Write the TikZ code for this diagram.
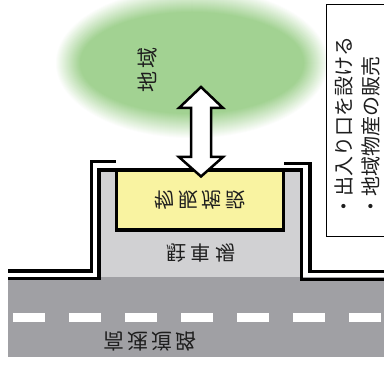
\documentclass[tikz,border=0pt]{standalone}
\usepackage{fontspec}
\usepackage{graphicx}
\newfontfamily\jp{Noto Sans CJK JP}
\definecolor{blob}{RGB}{162,210,146}
\definecolor{lot}{RGB}{209,209,211}
\definecolor{road}{RGB}{160,160,164}
\definecolor{facility}{RGB}{249,243,161}
\definecolor{ink}{RGB}{30,30,30}
\newcommand{\flipv}[1]{\scalebox{1}[-1]{#1}}
\begin{document}
\begin{tikzpicture}[x=1pt,y=-1pt,
  wall/.style={line width=3.6pt, line join=miter, line cap=butt},
  jplabel/.style={text=ink, inner sep=0pt},
  dashmark/.style={fill=white},
]
\useasboundingbox (0,0) rectangle (384,369);
% soft green area
\foreach \i in {0,...,24}{
  \pgfmathtruncatemacro\p{4*\i}
  \pgfmathsetmacro\rx{137-\i}
  \pgfmathsetmacro\ry{76-\i}
  \fill[blob!\p!white] (192,63) ellipse [x radius=\rx pt, y radius=\ry pt];
}
\fill[blob] (192,63) ellipse [x radius=112pt, y radius=51pt];
\node[jplabel, rotate=90, font=\jp\fontsize{21}{24}\selectfont] (area) at (148,70) {地\kern4pt 域};
% road
\fill[road] (8,277) rectangle (384,357);
\foreach \x in {13,69,...,349} \fill[dashmark] (\x,313) rectangle ++(32,9);
\node[jplabel, font=\jp\fontsize{21}{24}\selectfont] (roadlabel) at (150,341)
  {\flipv{高\kern3pt 速\kern3pt 道\kern3pt 路}};
% parking
\fill[lot] (99.2,170) rectangle (301.5,277);
% walls
\draw[wall] (8,271) -- (91.3,271) -- (91.3,161.7) -- (116,161.7);
\draw[wall] (284,163.5) -- (310,163.5) -- (310,271.5) -- (384,271.5);
\draw[wall] (8,278.5) -- (99.2,278.5) -- (99.2,170.2) -- (117,170.2);
\draw[wall] (283,170.2) -- (301.5,170.2) -- (301.5,279.5) -- (384,279.5);
\node[jplabel, font=\jp\fontsize{20}{24}\selectfont] (lotlabel) at (201,253)
  {\flipv{駐\kern4.5pt 車\kern4.5pt 場}};
% shop
\node[draw=black, line width=3.6pt, fill=facility, minimum width=167pt, minimum height=60pt,
  inner sep=0pt, text=ink, font=\jp\fontsize{20}{24}\selectfont] (shop) at (200,200.2)
  {\flipv{物\kern3.5pt 販\kern3.5pt 施\kern3.5pt 設}};
% double arrow
\draw[line width=2.5pt, fill=white, line join=miter]
  (201,87) -- (223,108) -- (211,108) -- (211,157) -- (223,157) -- (201,176.5)
  -- (179,157) -- (191,157) -- (191,108) -- (179,108) -- cycle;
% note box
\draw[line width=1.1pt, fill=white] (326.5,4.5) rectangle (395,236.5);
\node[jplabel, rotate=90, anchor=north west, align=left, font=\jp\fontsize{20}{27}\selectfont]
  (note) at (335,217) {・出入り口を設ける\\・地域物産の販売};
\end{tikzpicture}
\end{document}
